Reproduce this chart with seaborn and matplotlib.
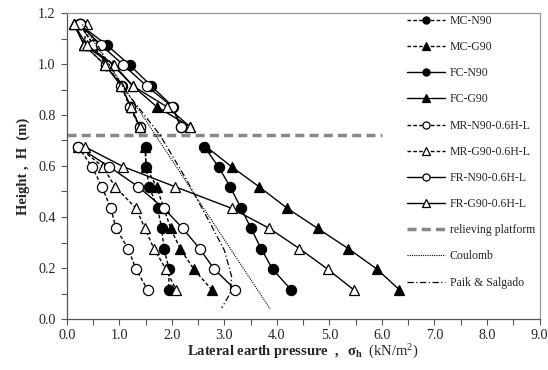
import numpy as np
import pandas as pd
import matplotlib
matplotlib.use("Agg")
import matplotlib.pyplot as plt
import seaborn as sns
from matplotlib.ticker import MultipleLocator, FormatStrFormatter

# ---------------- data ----------------
H_upper = [1.155, 1.075, 0.996, 0.914, 0.833, 0.754]
H_lower = [0.675, 0.597, 0.519, 0.434, 0.355, 0.276, 0.195, 0.115]

mc_n90 = [0.25, 0.51, 0.75, 1.05, 1.20, 1.39,
          1.50, 1.51, 1.57, 1.73, 1.81, 1.85, 1.95, 1.94]
mc_g90 = [0.14, 0.33, 0.73, 1.04, 1.22, 1.39,
          1.49, 1.51, 1.71, 1.85, 1.98, 2.16, 2.42, 2.76]
fc_n90 = [0.25, 0.76, 1.20, 1.61, 2.02, 2.17,
          2.62, 2.89, 3.11, 3.32, 3.51, 3.70, 3.92, 4.27]
fc_g90 = [0.14, 0.33, 0.88, 1.26, 1.71, 2.35,
          2.66, 3.14, 3.66, 4.20, 4.78, 5.36, 5.91, 6.33]
mr_n90_upper = [0.25, 0.51, 0.75, 1.04, 1.20, 1.39]
mr_n90_lower = [0.22, 0.48, 0.67, 0.84, 0.94, 1.17, 1.32, 1.54]
mr_g90_upper = [0.38, 0.33, 0.73, 1.04, 1.22, 1.39]
mr_g90_lower = [0.22, 0.69, 0.92, 1.32, 1.49, 1.66, 1.89, 2.08]
fr_n90_upper = [0.25, 0.65, 1.08, 1.52, 2.01, 2.17]
fr_n90_lower = [0.22, 0.81, 1.36, 1.85, 2.21, 2.53, 2.81, 3.21]
fr_g90_upper = [0.14, 0.38, 0.90, 1.26, 1.90, 2.35]
fr_g90_lower = [0.35, 1.08, 2.06, 3.14, 3.86, 4.43, 4.97, 5.46]

platform_H = 0.72
platform_x = [0.0, 6.0]

coulomb_x = [0.30, 3.87]
coulomb_H = [1.155, 0.04]

paik_x = [0.35, 1.10, 1.78, 2.27, 2.73, 3.00, 3.14, 3.11, 2.95]
paik_H = [1.155, 0.90, 0.72, 0.55, 0.376, 0.27, 0.166, 0.10, 0.043]

labels = ["MC-N90", "MC-G90", "FC-N90", "FC-G90",
          "MR-N90-0.6H-L", "MR-G90-0.6H-L", "FR-N90-0.6H-L", "FR-G90-0.6H-L"]

# ---------------- style ----------------
sns.set_theme(style="white")
plt.rcParams["font.family"] = ["Liberation Serif", "DejaVu Serif"]
plt.rcParams["mathtext.fontset"] = "custom"
plt.rcParams["mathtext.rm"] = "Liberation Serif"
plt.rcParams["mathtext.it"] = "Liberation Serif:italic"
plt.rcParams["mathtext.bf"] = "Liberation Serif:bold"

fig = plt.figure(figsize=(5.48, 3.70), dpi=100)
ax = fig.add_axes([66.7 / 548, 1 - 319 / 370, (539.5 - 66.7) / 548, (319 - 13) / 370])

dash = (0, (2.6, 1.6))

def series_df(upper, lower):
    return pd.DataFrame({
        "x": list(upper) + list(lower),
        "H": H_upper + H_lower,
        "seg": [0] * len(upper) + [1] * len(lower),
    })

series = [
    (labels[0], series_df(mc_n90[:6], mc_n90[6:]), "o", "black", dash),
    (labels[1], series_df(mc_g90[:6], mc_g90[6:]), "^", "black", dash),
    (labels[2], series_df(fc_n90[:6], fc_n90[6:]), "o", "black", "-"),
    (labels[3], series_df(fc_g90[:6], fc_g90[6:]), "^", "black", "-"),
    (labels[4], series_df(mr_n90_upper, mr_n90_lower), "o", "white", dash),
    (labels[5], series_df(mr_g90_upper, mr_g90_lower), "^", "white", dash),
    (labels[6], series_df(fr_n90_upper, fr_n90_lower), "o", "white", "-"),
    (labels[7], series_df(fr_g90_upper, fr_g90_lower), "^", "white", "-"),
]

for lab, df, mk, face, ls in series:
    sns.lineplot(data=df, x="x", y="H", units="seg", estimator=None, sort=False,
                 ax=ax, color="black", linewidth=1.0, linestyle=ls,
                 marker=mk, markersize=7.3, markerfacecolor=face,
                 markeredgecolor="black", markeredgewidth=0.9, label=lab)

sns.lineplot(x=platform_x, y=[platform_H, platform_H], ax=ax, sort=False,
             color="#888888", linewidth=2.5, linestyle=(0, (2.6, 1.5)),
             label="relieving platform")
sns.lineplot(x=coulomb_x, y=coulomb_H, ax=ax, sort=False, estimator=None,
             color="black", linewidth=0.8, linestyle=(0, (1, 1)), label="Coulomb")
sns.lineplot(x=paik_x, y=paik_H, ax=ax, sort=False, estimator=None,
             color="black", linewidth=0.9, linestyle=(0, (5, 2, 1, 2)),
             label="Paik & Salgado")

ax.set_xlim(0, 9)
ax.set_ylim(0, 1.2)
ax.xaxis.set_major_locator(MultipleLocator(1.0))
ax.xaxis.set_minor_locator(MultipleLocator(0.5))
ax.yaxis.set_major_locator(MultipleLocator(0.2))
ax.yaxis.set_minor_locator(MultipleLocator(0.1))
ax.xaxis.set_major_formatter(FormatStrFormatter("%.1f"))
ax.yaxis.set_major_formatter(FormatStrFormatter("%.1f"))
ax.tick_params(axis="both", which="both", direction="out", length=4, width=0.8,
               color="#555555", labelsize=10.2, bottom=True, left=True)
ax.tick_params(axis="x", pad=3)
ax.tick_params(axis="y", pad=4)
for s in ["left", "bottom"]:
    ax.spines[s].set_color("#555555")
    ax.spines[s].set_linewidth(0.9)
for s in ["top", "right"]:
    ax.spines[s].set_color("#999999")
    ax.spines[s].set_linewidth(0.9)
ax.grid(False)

ax.set_ylabel("Height ,  H  (m)", fontsize=10.5, fontweight="bold", labelpad=6)
ax.set_xlabel(r"$\mathbf{Lateral\ earth\ pressure\ \ ,\ \ \sigma_h}$  (kN/m$^2$)",
              fontsize=10.5, labelpad=1)

handles, labs = ax.get_legend_handles_labels()
seen = {}
for h, l in zip(handles, labs):
    if l not in seen:
        seen[l] = h
leg = ax.legend(list(seen.values()), list(seen.keys()), loc="upper left",
                bbox_to_anchor=(407 / 548, 1 - 15 / 370),
                bbox_transform=fig.transFigure, frameon=False, fontsize=8.5,
                handlelength=3.2, handletextpad=0.4, labelspacing=1.2,
                markerscale=0.7, borderpad=0, borderaxespad=0)

fig.savefig("out.png", dpi=100)
